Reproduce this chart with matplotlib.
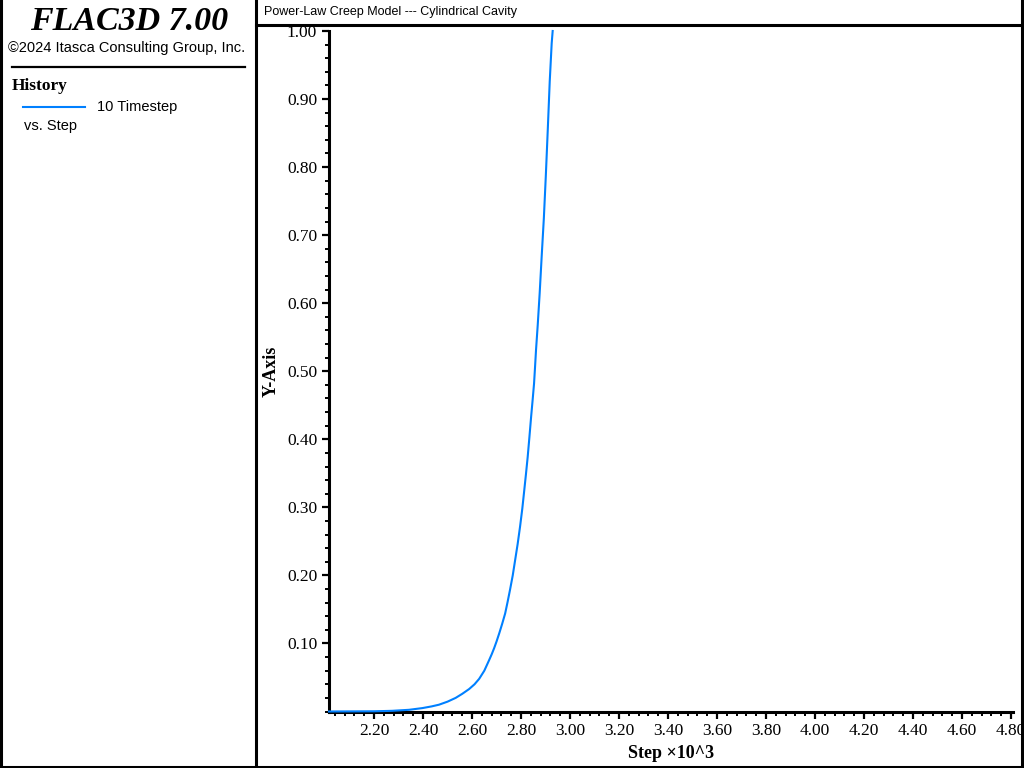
import matplotlib
matplotlib.use('Agg')
import matplotlib.pyplot as plt
from matplotlib.lines import Line2D
from matplotlib.ticker import MultipleLocator, FormatStrFormatter

# history data: step (x10^3) vs 10 timestep
step = [2.016, 2.200, 2.274, 2.343, 2.397, 2.435, 2.465, 2.500, 2.533, 2.560,
        2.588, 2.610, 2.629, 2.650, 2.669, 2.680, 2.690, 2.700, 2.711, 2.723,
        2.735, 2.745, 2.755, 2.766, 2.776, 2.786, 2.796, 2.805, 2.813, 2.820,
        2.827, 2.834, 2.841, 2.847, 2.853, 2.857, 2.861, 2.868, 2.876, 2.884,
        2.893, 2.901, 2.909, 2.917, 2.925, 2.929]
value = [0.0, 0.0003, 0.001, 0.0025, 0.005, 0.0075, 0.010, 0.0145, 0.020, 0.026,
         0.033, 0.040, 0.048, 0.060, 0.075, 0.084, 0.093, 0.103, 0.115, 0.129,
         0.144, 0.161, 0.179, 0.200, 0.223, 0.246, 0.272, 0.298, 0.325, 0.349,
         0.374, 0.403, 0.433, 0.457, 0.482, 0.506, 0.531, 0.568, 0.615, 0.668,
         0.725, 0.787, 0.855, 0.926, 0.982, 1.0]

W, H = 1024, 768
SERIF = 'Liberation Serif'
SANS = 'Liberation Sans'
BLUE = '#0080ff'

fig = plt.figure(figsize=(W / 100, H / 100), dpi=100)

# convert pixel coords (top-left origin) to figure fraction
def px(x, y):
  return x / W, 1 - y / H

def hline(x1, x2, y, lw=2.2):
  a, b = px(x1, y)
  c, _ = px(x2, y)
  fig.add_artist(Line2D([a, c], [b, b], color='black', lw=lw, zorder=10))

def vline(x, y1, y2, lw=2.2):
  a, b = px(x, y1)
  _, d = px(x, y2)
  fig.add_artist(Line2D([a, a], [b, d], color='black', lw=lw, zorder=10))

# panel borders
vline(1, 0, 768)
vline(256, 0, 768)
vline(1022, 0, 768)
hline(0, 1024, 766.5)
hline(256, 1024, 24.5)
hline(12, 245, 67, lw=1.6)

# left panel texts
fig.text(*px(129, 22), 'FLAC3D 7.00', family=SERIF, style='italic', weight='bold',
         fontsize=24.5, ha='center', va='center')
fig.text(*px(127, 48), '©2024 Itasca Consulting Group, Inc.', family=SANS,
         fontsize=10.5, ha='center', va='center')
fig.text(*px(12, 86), 'History', family=SERIF, weight='bold', fontsize=12.5,
         ha='left', va='center')
a, b = px(23, 107)
c, _ = px(85, 107)
fig.add_artist(Line2D([a, c], [b, b], color=BLUE, lw=1.5))
fig.text(*px(97, 107), '10 Timestep', family=SANS, fontsize=10.5, ha='left', va='center')
fig.text(*px(24, 126), 'vs. Step', family=SANS, fontsize=10.5, ha='left', va='center')

# title bar
fig.text(*px(264, 12), 'Power-Law Creep Model --- Cylindrical Cavity', family=SANS,
         fontsize=9, ha='left', va='center')

# axes
left, right, top, bottom = 329, 1013, 31, 711.5
ax = fig.add_axes([left / W, 1 - bottom / H, (right - left) / W, (bottom - top) / H])
ax.plot(step, value, color=BLUE, lw=1.5, clip_on=False, zorder=5)
ax.set_xlim(2.016, 4.808)
ax.set_ylim(0, 1.0)

for s in ['top', 'right']:
  ax.spines[s].set_visible(False)
for s in ['left', 'bottom']:
  ax.spines[s].set_linewidth(2.2)

ax.xaxis.set_major_locator(MultipleLocator(0.2))
ax.xaxis.set_minor_locator(MultipleLocator(0.04))
ax.yaxis.set_major_locator(MultipleLocator(0.1))
ax.yaxis.set_minor_locator(MultipleLocator(0.02))
ax.xaxis.set_major_formatter(FormatStrFormatter('%.2f'))
ax.yaxis.set_major_formatter(FormatStrFormatter('%.2f'))
ax.set_yticks([0.1 * i for i in range(1, 11)])

ax.tick_params(which='major', direction='out', length=5, width=1.6, pad=3.5)
ax.tick_params(which='minor', direction='out', length=3, width=1.4)
for lab in ax.get_xticklabels() + ax.get_yticklabels():
  lab.set_family(SERIF)
  lab.set_fontsize(12.5)

ax.set_ylabel('Y-Axis', family=SERIF, weight='bold', fontsize=13, labelpad=5)
ax.set_xlabel('Step ×10^3', family=SERIF, weight='bold', fontsize=13, labelpad=4)

fig.savefig('out.png', dpi=100)
